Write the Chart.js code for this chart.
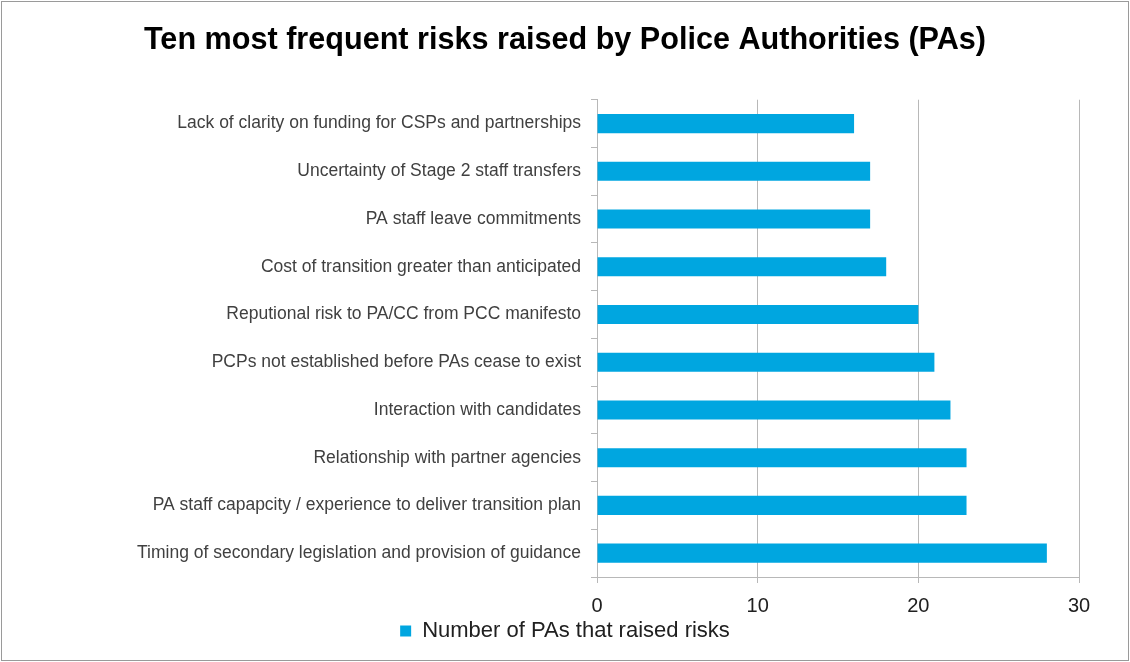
<!DOCTYPE html>
<html>
<head>
<meta charset="utf-8">
<script src="https://cdn.jsdelivr.net/npm/chart.js@4"></script>
<style>
html,body{margin:0;padding:0;background:#fff;}
#wrap{position:absolute;left:1px;top:1px;width:1128px;height:660px;box-sizing:border-box;border:1px solid #9a9a9a;}
canvas{position:absolute;left:0;top:0;}
</style>
</head>
<body>
<div id="wrap"></div>
<canvas id="c" width="1130" height="662" style="width:1130px;height:662px"></canvas>
<script>
const chartTitle = 'Ten most frequent risks raised by Police Authorities (PAs)';
const categories = [
  'Lack of clarity on funding for CSPs and partnerships',
  'Uncertainty of Stage 2 staff transfers',
  'PA staff leave commitments',
  'Cost of transition greater than anticipated',
  'Reputional risk to PA/CC from PCC manifesto',
  'PCPs not established before PAs cease to exist',
  'Interaction with candidates',
  'Relationship with partner agencies',
  'PA staff capapcity / experience to deliver transition plan',
  'Timing of secondary legislation and provision of guidance'
];
const seriesName = 'Number of PAs that raised risks';
const values = [16, 17, 17, 18, 20, 21, 22, 23, 23, 28];
const xMin = 0, xMax = 30, xStep = 10;

Chart.defaults.font.family = '"Liberation Sans", Arial, sans-serif';
Chart.defaults.color = '#404040';

new Chart(document.getElementById('c'), {
  type: 'bar',
  data: {
    labels: categories,
    datasets: [{
      label: seriesName,
      data: values,
      backgroundColor: '#00A6E0',
      borderWidth: 0,
      categoryPercentage: 0.8,
      barPercentage: 0.5
    }]
  },
  options: {
    indexAxis: 'y',
    responsive: false,
    animation: false,
    layout: { padding: { left: 0, right: 0, top: 0, bottom: 10 } },
    plugins: {
      title: {
        display: true,
        text: chartTitle,
        color: '#000',
        font: { size: 30.6, weight: 'bold' },
        padding: { top: 22, bottom: 41 }
      },
      legend: {
        display: true,
        position: 'bottom',
        labels: {
          color: '#202020',
          font: { size: 22 },
          boxWidth: 11,
          boxHeight: 11,
          padding: 5
        }
      },
      tooltip: { enabled: false }
    },
    scales: {
      x: {
        min: xMin, max: xMax,
        ticks: { stepSize: xStep, font: { size: 20 }, color: '#202020', padding: 11 },
        grid: { color: '#b8b8b8', lineWidth: 1, tickLength: 6, drawTicks: true },
        border: { color: '#b8b8b8' },
        afterFit: (s) => { s.height = 38; }
      },
      y: {
        ticks: { font: { size: 17.5 }, color: '#404040', padding: 10, autoSkip: false },
        grid: { offset: true, drawOnChartArea: false, color: '#b8b8b8', tickLength: 6 },
        border: { color: '#b8b8b8' },
        afterFit: (s) => { s.width = 597; }
      },
      yRightSpace: {
        type: 'category',
        position: 'right',
        display: true,
        grid: { display: false, drawTicks: false },
        border: { display: false },
        ticks: { display: false },
        afterFit: (s) => { s.width = 51; }
      }
    }
  }
});
</script>
</body>
</html>
